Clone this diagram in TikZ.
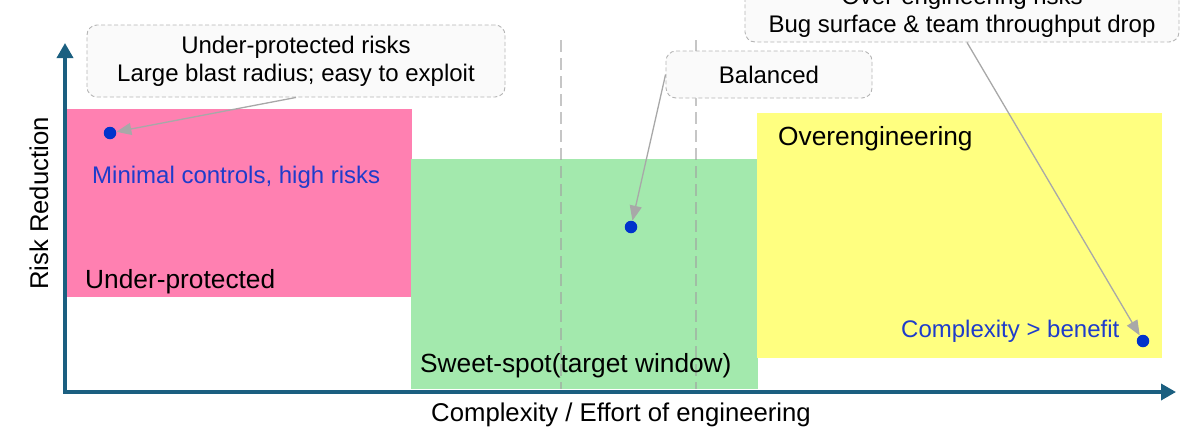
\documentclass[tikz,border=0pt]{standalone}
\usepackage{fontspec}
\setmainfont{Liberation Sans}
\usetikzlibrary{arrows.meta}
\definecolor{axiscol}{HTML}{1B5F80}
\definecolor{pinkz}{HTML}{FF80B1}
\definecolor{greenz}{HTML}{A3E9AD}
\definecolor{yellowz}{HTML}{FFFF80}
\definecolor{dotblue}{HTML}{0033CC}
\definecolor{txtblue}{HTML}{1E3CCB}
\definecolor{calloutfill}{HTML}{FAFAFA}
\definecolor{calloutline}{HTML}{B4B4B4}
\definecolor{arrowgray}{HTML}{A8A8A8}
\definecolor{guidegray}{HTML}{A0A0A0}
\begin{document}
\begin{tikzpicture}[x=1pt,y=-1pt,
  lbl/.style={font=\fontsize{24}{28}\selectfont, inner sep=0pt},
  biglbl/.style={font=\fontsize{26.3}{30}\selectfont, inner sep=0pt},
  axislbl/.style={font=\fontsize{25.7}{30}\selectfont, inner sep=0pt},
  zone/.style={draw=none, inner sep=0pt, anchor=north west},
  callout/.style={draw=calloutline, fill=calloutfill, dash pattern=on 4pt off 2.5pt, line width=0.9pt, rounded corners=10pt, align=center, font=\fontsize{24}{28}\selectfont, inner sep=0pt},
  dotnode/.style={circle, fill=dotblue, minimum size=12.5pt, inner sep=0pt},
  pointer/.style={draw=arrowgray, line width=1.3pt, -{Triangle[length=15pt,width=12pt,fill=arrowgray]}},
  axisline/.style={draw=axiscol, line width=3.5pt, -{Triangle[length=15pt,width=16pt,fill=axiscol]}},
  guide/.style={draw=guidegray, draw opacity=0.6, line width=2pt, dash pattern=on 12pt off 6pt}
]
\useasboundingbox (0,0) rectangle (1188,437);
\clip (0,0) rectangle (1188,437);

% zones
\node[zone, fill=pinkz, minimum width=345pt, minimum height=188pt] (zpink) at (67,109) {};
\node[zone, fill=greenz, minimum width=347pt, minimum height=230pt] (zgreen) at (411,159) {};
\node[zone, fill=yellowz, minimum width=405pt, minimum height=245pt] (zyellow) at (757,113) {};

% guide lines
\draw[guide] (561,40) -- (561,389);
\draw[guide] (696,40) -- (696,389);

% axes
\coordinate (origin) at (65,392);
\coordinate (ytip) at (65,43);
\coordinate (xtip) at (1176,392);
\draw[axisline] ([yshift=1.75pt]origin) -- (ytip);
\draw[axisline] ([xshift=-1.75pt]origin) -- (xtip);

% callouts
\node[callout, minimum width=418pt, minimum height=72pt] (c1) at (296,61)
  {Under-protected risks\\Large blast radius; easy to exploit};
\node[callout, minimum width=206pt, minimum height=47pt] (c2) at (769,74.5) {Balanced};
\node[callout, minimum width=434pt, minimum height=60pt] (c3) at (962,12)
  {Over-engineering risks\\Bug surface \& team throughput drop};

% dots
\node[dotnode] (d1) at (110,133) {};
\node[dotnode] (d2) at (631,227) {};
\node[dotnode] (d3) at (1143,341) {};

% pointers
\draw[pointer] (c1.south) -- (d1);
\draw[pointer] (c2.west) -- (d2);
\draw[pointer] ([xshift=5pt]c3.south) -- (d3);

% zone labels
\node[lbl, anchor=base west, text=txtblue] (t1) at (92,183) {Minimal controls, high risks};
\node[biglbl, anchor=base west] (t2) at (85,288) {Under-protected};
\node[biglbl, anchor=base west] (t3) at (420,372) {Sweet-spot(target window)};
\node[biglbl, anchor=base west] (t4) at (778,145) {Overengineering};
\node[lbl, anchor=base west, text=txtblue] (t5) at (901,337) {Complexity > benefit};

% axis labels
\node[axislbl, anchor=base] (xl) at (621,421) {Complexity / Effort of engineering};
\node[axislbl, anchor=base, rotate=90] (yl) at (48,203.5) {Risk Reduction};
\end{tikzpicture}
\end{document}
